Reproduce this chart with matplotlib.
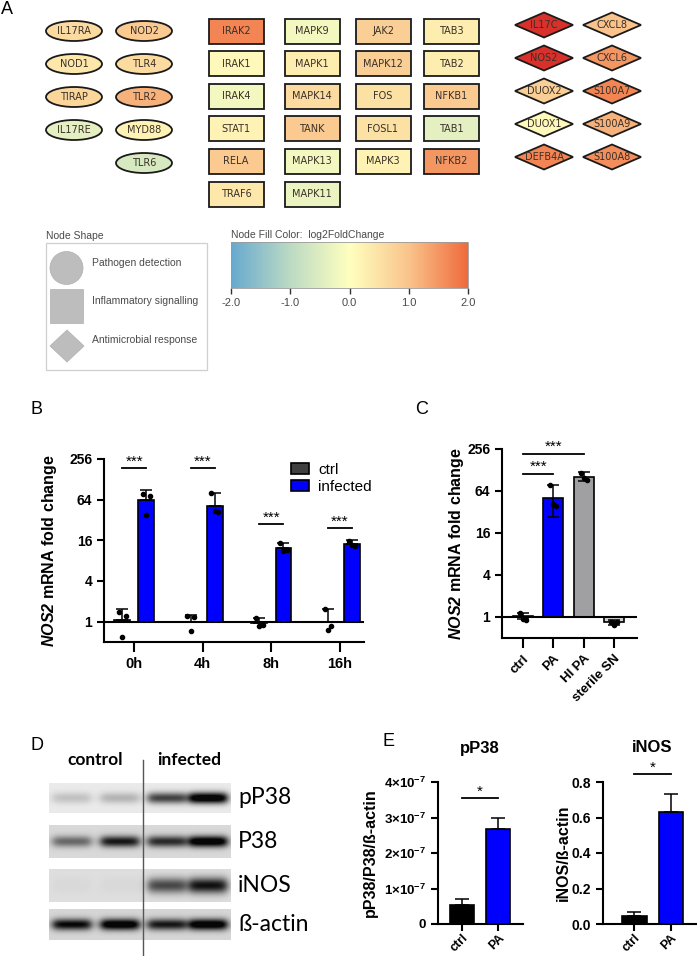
import numpy as np
import matplotlib
matplotlib.use('Agg')
import matplotlib.pyplot as plt
from matplotlib.patches import Ellipse, Rectangle, Polygon, Circle
from matplotlib.colors import LinearSegmentedColormap, Normalize
from matplotlib.cm import ScalarMappable

W, H = 697, 956
plt.rcParams['font.family'] = ['Liberation Sans', 'DejaVu Sans']
plt.rcParams['mathtext.fontset'] = 'custom'
plt.rcParams['mathtext.rm'] = 'Liberation Sans'
plt.rcParams['mathtext.it'] = 'Liberation Sans:italic'
plt.rcParams['mathtext.bf'] = 'Liberation Sans:bold'
plt.rcParams['mathtext.bfit'] = 'Liberation Sans:bold:italic'

# ---- panel A: genes and log2 fold changes, one list per column
ell1_genes = ['IL17RA', 'NOD1', 'TIRAP', 'IL17RE']
ell1_fc = [0.6, 0.4, 0.7, -0.4]
ell2_genes = ['NOD2', 'TLR4', 'TLR2', 'MYD88', 'TLR6']
ell2_fc = [0.9, 0.6, 1.2, 0.2, -0.6]
rect1_genes = ['IRAK2', 'IRAK1', 'IRAK4', 'STAT1', 'RELA', 'TRAF6']
rect1_fc = [1.7, 0.1, -0.2, 0.2, 0.9, 0.4]
rect2_genes = ['MAPK9', 'MAPK1', 'MAPK14', 'TANK', 'MAPK13', 'MAPK11']
rect2_fc = [-0.2, 0.3, 0.6, 0.9, -0.2, -0.3]
rect3_genes = ['JAK2', 'MAPK12', 'FOS', 'FOSL1', 'MAPK3']
rect3_fc = [0.8, 0.8, 0.5, 0.5, 0.2]
rect4_genes = ['TAB3', 'TAB2', 'NFKB1', 'TAB1', 'NFKB2']
rect4_fc = [0.3, 0.3, 0.9, -0.4, 1.5]
dia1_genes = ['IL17C', 'NOS2', 'DUOX2', 'DUOX1', 'DEFB4A']
dia1_fc = [3.0, 3.0, 0.8, 0.1, 1.7]
dia2_genes = ['CXCL8', 'CXCL6', 'S100A7', 'S100A9', 'S100A8']
dia2_fc = [1.0, 1.5, 1.7, 1.2, 1.6]

shape_labels = ['Pathogen detection', 'Inflammatory signalling', 'Antimicrobial response']
cbar_ticks = [-2, -1, 0, 1, 2]

# ---- panel B
times = ['0h', '4h', '8h', '16h']
ctrl_mean = [1.05, 0.98, 0.96, 0.98]
ctrl_top = [1.55, 1.25, 1.15, 1.55]
ctrl_pts = [[1.39, 1.23, 0.6], [1.2, 1.18, 0.72], [1.15, 0.88, 0.85], [1.55, 0.86, 0.76]]
inf_mean = [64, 52, 12.2, 13.9]
inf_top = [88, 80, 14.6, 16]
inf_pts = [[78, 72, 38], [80, 42, 44], [14.5, 11.6, 11.0], [15.5, 13.0, 13.5]]
b_sig_y = [186, 186, 27.5, 24]

# ---- panel C
c_groups = ['ctrl', 'PA', 'HI PA', 'sterile SN']
c_mean = [1.05, 51, 100, 0.84]
c_lo = [0.95, 27, 88, 0.78]
c_hi = [1.15, 78, 120, 0.9]
c_pts = [[1.15, 0.92, 0.95], [78, 39, 41], [117, 92, 97], [0.86, 0.84, 0.76]]
c_colors = ['white', '#0000ff', '#a0a0a2', '#d0d0d0']

# ---- panel D (band intensities, 0..1)
blot_rows = ['pP38', 'P38', 'iNOS', 'ß-actin']
blot_bands = [[0.15, 0.2, 0.62, 1.0],
              [0.45, 0.78, 0.7, 1.0],
              [0.02, 0.02, 0.58, 0.8],
              [0.85, 1.0, 0.78, 1.0]]
blot_bg = [0.92, 0.85, 0.87, 0.84]

# ---- panel E
e_groups = ['ctrl', 'PA']
pp38_mean = [0.53e-7, 2.68e-7]
pp38_sd = [0.17e-7, 0.30e-7]
inos_mean = [0.045, 0.63]
inos_sd = [0.025, 0.105]

fig = plt.figure(figsize=(W / 100, H / 100), dpi=100)


def px_axes(l, t, r, b):
    return fig.add_axes([l / W, 1 - b / H, (r - l) / W, (b - t) / H])


ov = px_axes(0, 0, W, H)
ov.axis('off')

cmap = LinearSegmentedColormap.from_list(
    'fc', ['#67a9cf', '#bcdac3', '#ffffbf', '#f9c48c', '#ef6a3b'])
cmap.set_over('#d8302a')
norm = Normalize(-2, 2)

txt_kw = dict(ha='center', va='center', fontsize=7, color='#3a3028',
              family='DejaVu Sans', zorder=4)

# ellipses
for cx, genes, fc in [(74, ell1_genes, ell1_fc), (144, ell2_genes, ell2_fc)]:
    for i, (g, v) in enumerate(zip(genes, fc)):
        cy = 31 + 33 * i
        ov.add_patch(Ellipse((cx, cy), 56, 20, facecolor=cmap(norm(v)),
                             edgecolor='#1a1a1a', lw=1.3))
        ov.text(cx, cy, g, **txt_kw)

# rectangles
for cx, genes, fc in [(236, rect1_genes, rect1_fc), (312, rect2_genes, rect2_fc),
                      (383, rect3_genes, rect3_fc), (451, rect4_genes, rect4_fc)]:
    for i, (g, v) in enumerate(zip(genes, fc)):
        cy = 31 + 32.6 * i
        ov.add_patch(Rectangle((cx - 27.5, cy - 12.5), 55, 25, facecolor=cmap(norm(v)),
                               edgecolor='#1a1a1a', lw=1.3))
        ov.text(cx, cy, g, **txt_kw)

# diamonds
for cx, genes, fc in [(544, dia1_genes, dia1_fc), (612, dia2_genes, dia2_fc)]:
    for i, (g, v) in enumerate(zip(genes, fc)):
        cy = 25 + 33 * i
        ov.add_patch(Polygon([(cx - 29, cy), (cx, cy - 12.5), (cx + 29, cy), (cx, cy + 12.5)],
                             closed=True, facecolor=cmap(norm(v)), edgecolor='#1a1a1a', lw=1.3))
        ov.text(cx, cy, g, **txt_kw)

# shape legend
leg_txt = dict(fontsize=7.5, color='#4a4a4a', va='center', ha='left')
ov.text(46, 236, 'Node Shape', **leg_txt)
ov.add_patch(Rectangle((46, 243), 161, 127, fill=False, edgecolor='#cfcfcf', lw=0.9))
ov.add_patch(Circle((66.5, 268), 16.5, facecolor='#bdbdbd', edgecolor='#b0b0b0', lw=0.5))
ov.add_patch(Rectangle((50, 289), 33, 34, facecolor='#bdbdbd', edgecolor='#b0b0b0', lw=0.5))
ov.add_patch(Polygon([(50, 346), (67, 330), (84, 346), (67, 362)], closed=True,
                     facecolor='#bdbdbd', edgecolor='#b0b0b0', lw=0.5))
for ty, lab in zip([263, 301, 340], shape_labels):
    ov.text(92, ty, lab, **leg_txt)

# colour bar
ov.text(231, 235, 'Node Fill Color:  log2FoldChange', **leg_txt)
cax = px_axes(231, 242, 468, 288)
cb = fig.colorbar(ScalarMappable(norm=norm, cmap=cmap), cax=cax, orientation='horizontal')
cb.set_ticks(cbar_ticks)
cb.set_ticklabels([f'{t:.1f}' for t in cbar_ticks])
cb.outline.set_edgecolor('#9a9a9a')
cb.outline.set_linewidth(0.6)
cax.tick_params(length=4, width=1, color='#333333', labelsize=8, labelcolor='#4a4a4a', pad=3)

# panel letters
for lx, ly, lt in [(7, 9, 'A'), (37, 410, 'B'), (422, 410, 'C'), (37, 745, 'D'), (389, 742, 'E')]:
    ov.text(lx, ly, lt, fontsize=13, ha='center', va='center')


def style(ax):
    for s in ['top', 'right']:
        ax.spines[s].set_visible(False)
    for s in ['left', 'bottom']:
        ax.spines[s].set_linewidth(1.5)
    ax.tick_params(width=1.5, length=5)
    ax.tick_params(axis='x', length=7)
    ax.patch.set_alpha(0)


pow_ticks = [1, 4, 16, 64, 256]
offs = [-0.05, 0.05, 0.0]

# ---- B
axb = px_axes(104, 459, 364, 642)
style(axb)
axb.set_yscale('log', base=2)
axb.set_ylim(0.5, 256)
xb = np.arange(len(times))
axb.set_xlim(-0.44, 3.35)
bw = 0.23
d = 0.175
axb.bar(xb - d, np.array(ctrl_mean) - 1, bottom=1, width=bw, color='#404040',
        edgecolor='black', lw=1.2, label='ctrl', zorder=2)
axb.bar(xb + d, np.array(inf_mean) - 1, bottom=1, width=bw, color='#0000ff',
        edgecolor='black', lw=1.2, label='infected', zorder=2)
axb.errorbar(xb - d, ctrl_mean, yerr=[np.zeros(4), np.array(ctrl_top) - ctrl_mean],
             fmt='none', ecolor='black', elinewidth=1.1, capsize=4, capthick=1.1, zorder=3)
axb.errorbar(xb + d, inf_mean, yerr=[np.zeros(4), np.array(inf_top) - inf_mean],
             fmt='none', ecolor='black', elinewidth=1.1, capsize=4, capthick=1.1, zorder=3)
for i in range(len(times)):
    axb.scatter(xb[i] - d + np.array(offs), ctrl_pts[i], s=9, color='black', zorder=5)
    axb.scatter(xb[i] + d + np.array(offs), inf_pts[i], s=9, color='black', zorder=5)
    axb.plot([xb[i] - d, xb[i] + d], [b_sig_y[i]] * 2, color='black', lw=1.3, clip_on=False)
    axb.text(xb[i], b_sig_y[i] * 2 ** 0.15, '***', ha='center', va='baseline',
             fontsize=11, clip_on=False)
axb.axhline(1, color='black', lw=1.5, zorder=4)
axb.set_yticks(pow_ticks)
axb.set_yticklabels([str(t) for t in pow_ticks], fontweight='bold', fontsize=10)
axb.yaxis.set_minor_locator(matplotlib.ticker.NullLocator())
axb.set_xticks(xb)
axb.set_xticklabels(times, fontweight='bold', fontsize=10.5)
axb.set_ylabel(r'$\bfit{NOS2}$ mRNA fold change', fontsize=11.5, fontweight='bold')
axb.yaxis.set_label_coords(-0.173, 0.5)
axb.legend(loc='upper left', bbox_to_anchor=(283 / W, 1 - 455 / H), bbox_transform=fig.transFigure,
           frameon=False, fontsize=11, handlelength=1.2, handleheight=0.7,
           labelspacing=0.2, borderpad=0, handletextpad=0.6)

# ---- C
axc = px_axes(502, 449, 637, 638)
style(axc)
axc.set_yscale('log', base=2)
axc.set_ylim(0.5, 256)
xc = np.arange(len(c_groups))
axc.set_xlim(-0.69, 3.76)
axc.bar(xc, np.array(c_mean) - 1, bottom=1, width=0.66, color=c_colors,
        edgecolor='black', lw=1.2, zorder=2)
axc.errorbar(xc, c_mean, yerr=[np.array(c_mean) - c_lo, np.array(c_hi) - c_mean],
             fmt='none', ecolor='black', elinewidth=1.1, capsize=4, capthick=1.1, zorder=3)
for i in range(len(c_groups)):
    axc.scatter(xc[i] + np.array(offs) * 2, c_pts[i], s=9, color='black', zorder=5)
axc.axhline(1, color='black', lw=1.5, zorder=4)
for (a, b), y in [((0, 2), 217), ((0, 1), 112)]:
    axc.plot([a, b], [y, y], color='black', lw=1.3, clip_on=False)
    axc.text((a + b) / 2, y * 2 ** 0.15, '***', ha='center', va='baseline',
             fontsize=11, clip_on=False)
axc.set_yticks(pow_ticks)
axc.set_yticklabels([str(t) for t in pow_ticks], fontweight='bold', fontsize=10)
axc.yaxis.set_minor_locator(matplotlib.ticker.NullLocator())
axc.set_xticks(xc)
axc.set_xticklabels(c_groups, fontweight='bold', fontsize=9.5, rotation=45,
                    ha='right', rotation_mode='anchor')
axc.set_ylabel(r'$\bfit{NOS2}$ mRNA fold change', fontsize=11.5, fontweight='bold')
axc.yaxis.set_label_coords(-0.267, 0.5)

# ---- D western blot
strips = [(783, 813), (825, 858), (869, 902), (909, 940)]
lanes = [72, 120, 167, 208]
x0, x1 = 49, 231
xx = np.arange(x0, x1) + 0.5
for r, (y0, y1) in enumerate(strips):
    yy = np.arange(y0, y1)[:, None] + 0.5
    yc = (y0 + y1) / 2
    sy = 5.5 if blot_rows[r] == 'iNOS' else 4.0
    dark = np.zeros((y1 - y0, x1 - x0))
    for k, lc in enumerate(lanes):
        prof_x = 1 / (1 + np.exp(-(19 - np.abs(xx - lc)) / 2.5))
        prof_y = np.exp(-0.5 * ((yy - yc) / sy) ** 2)
        dark += 1.2 * blot_bands[r][k] * prof_x[None, :] * prof_y
    img = blot_bg[r] * (1 - np.clip(dark, 0, 1) * 0.97)
    ov.imshow(img, cmap='gray', vmin=0, vmax=1, extent=(x0, x1, y1, y0),
              aspect='auto', interpolation='bilinear')
    ov.text(238, yc, blot_rows[r], fontsize=16.5, family='Lato', ha='left', va='center')
ov.plot([143, 143], [760, 955], color='#555555', lw=1)
ov.text(95, 760, 'control', fontsize=12.5, family='Lato', fontweight='bold', ha='center', va='center')
ov.text(189, 760, 'infected', fontsize=12.5, family='Lato', fontweight='bold', ha='center', va='center')

# ---- E
e_xt = dict(fontweight='bold', fontsize=9, rotation=45, ha='right', rotation_mode='anchor')
axe1 = px_axes(438, 782, 523, 924)
style(axe1)
axe1.tick_params(axis='x', length=5, pad=1)
xe = np.arange(2)
axe1.set_xlim(-0.67, 1.69)
axe1.set_ylim(0, 4e-7)
axe1.bar(xe, pp38_mean, width=0.67, color=['black', '#0000ff'], edgecolor='black', lw=1.2)
axe1.errorbar(xe, pp38_mean, yerr=[np.zeros(2), pp38_sd], fmt='none', ecolor='black',
              elinewidth=1.1, capsize=5, capthick=1.1)
axe1.plot([0, 1], [3.55e-7] * 2, color='black', lw=1.3)
axe1.text(0.5, 3.62e-7, '*', ha='center', va='baseline', fontsize=11)
ytk = [0, 1e-7, 2e-7, 3e-7, 4e-7]
axe1.set_yticks(ytk)
axe1.set_yticklabels(['0'] + [r'$\mathbf{%d{\times}10^{-7}}$' % k for k in range(1, 5)], fontsize=9.5,
                     fontweight='bold')
axe1.set_xticks(xe)
axe1.set_xticklabels(e_groups, **e_xt)
axe1.set_ylabel('pP38/P38/ß-actin', fontsize=11.5, fontweight='bold')
axe1.yaxis.set_label_coords(-0.706, 0.5)
ov.text(480, 748, 'pP38', fontsize=12, fontweight='bold', ha='center', va='center')

axe2 = px_axes(603, 782, 697, 924)
style(axe2)
axe2.tick_params(axis='x', length=5, pad=1)
axe2.set_xlim(-0.86, 1.72)
axe2.set_ylim(0, 0.8)
axe2.bar(xe, inos_mean, width=0.67, color=['black', '#0000ff'], edgecolor='black', lw=1.2)
axe2.errorbar(xe, inos_mean, yerr=[np.zeros(2), inos_sd], fmt='none', ecolor='black',
              elinewidth=1.1, capsize=5, capthick=1.1)
axe2.plot([0, 1], [0.845] * 2, color='black', lw=1.3, clip_on=False)
axe2.text(0.5, 0.858, '*', ha='center', va='baseline', fontsize=11, clip_on=False)
axe2.set_yticks([0, 0.2, 0.4, 0.6, 0.8])
axe2.set_yticklabels(['0.0', '0.2', '0.4', '0.6', '0.8'], fontsize=10, fontweight='bold')
axe2.set_xticks(xe)
axe2.set_xticklabels(e_groups, **e_xt)
axe2.set_ylabel('iNOS/ß-actin', fontsize=11.5, fontweight='bold')
axe2.yaxis.set_label_coords(-0.34, 0.5)
ov.text(652, 748, 'iNOS', fontsize=12, fontweight='bold', ha='center', va='center')

ov.set_xlim(0, W)
ov.set_ylim(H, 0)

fig.savefig('out.png', dpi=100)
